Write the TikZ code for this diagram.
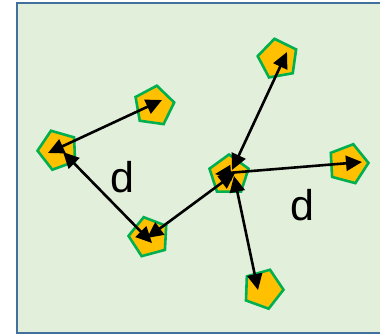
\documentclass[tikz,border=0pt]{standalone}
\usepackage{fontspec}
\setmainfont{Liberation Sans}
\usetikzlibrary{shapes.geometric,arrows.meta}
\definecolor{bgfill}{HTML}{E2EFDA}
\definecolor{bgline}{HTML}{41719C}
\definecolor{penfill}{HTML}{FFC000}
\definecolor{penline}{HTML}{00B050}
\begin{document}
\begin{tikzpicture}[x=1pt,y=-1pt,
  pent/.style={regular polygon,regular polygon sides=5,minimum size=41pt,inner sep=0pt,
    fill=penfill,draw=penline,line width=2.6pt},
  link/.style={line width=2.6pt,{Triangle[length=16pt,width=15pt]}-{Triangle[length=16pt,width=15pt]}},
  lbl/.style={font=\fontsize{43}{50}\selectfont,inner sep=0pt}]
\useasboundingbox (0,0) rectangle (380,335);
\path[fill=bgfill,draw=bgline,line width=1.6pt] (17,3) rectangle (392,333);
% pentagons
\node[pent,rotate=10]  (p1) at (278,59) {};
\node[pent,rotate=-8]  (p2) at (154,106) {};
\node[pent,rotate=20]  (p3) at (58,150) {};
\node[pent,rotate=0]   (p4) at (229,175) {};
\node[pent,rotate=-15] (p5) at (348,164) {};
\node[pent,rotate=15]  (p6) at (149,237) {};
\node[pent,rotate=-20] (p7) at (263,289) {};
% arrow end points
\coordinate (a1) at (48,153);  \coordinate (a2) at (162,100);
\coordinate (b1) at (63,152);  \coordinate (b2) at (152,243);
\coordinate (c1) at (147,238); \coordinate (c2) at (235,173);
\coordinate (d1) at (232,170); \coordinate (d2) at (287,52);
\coordinate (e1) at (215,174); \coordinate (e2) at (362,162);
\coordinate (f1) at (234,176); \coordinate (f2) at (258,290);
\draw[link] (a1) -- (a2);
\draw[link] (b1) -- (b2);
\draw[link] (c1) -- (c2);
\draw[link] (d1) -- (d2);
\draw[link] (e1) -- (e2);
\draw[link] (f1) -- (f2);
% labels
\node[lbl] (l1) at (122,177) {d};
\node[lbl] (l2) at (302,205) {d};
\end{tikzpicture}
\end{document}
